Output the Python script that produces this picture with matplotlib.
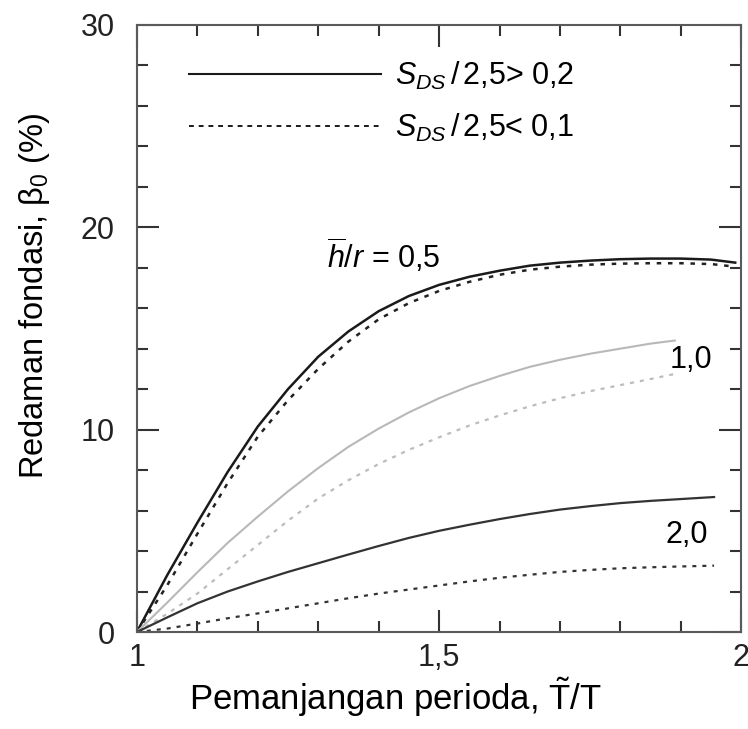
import matplotlib
matplotlib.use("Agg")
import matplotlib.pyplot as plt
from matplotlib.lines import Line2D
from matplotlib.ticker import MultipleLocator, FixedLocator

plt.rcParams['font.family'] = ['Liberation Sans', 'DejaVu Sans']
plt.rcParams['mathtext.fontset'] = 'custom'
plt.rcParams['mathtext.rm'] = 'Liberation Sans'
plt.rcParams['mathtext.it'] = 'Liberation Sans:italic'

# h/r = 0,5
x_05 = [1.0, 1.05, 1.1, 1.15, 1.2, 1.25, 1.3, 1.35, 1.4, 1.45, 1.5, 1.55, 1.6, 1.65,
        1.7, 1.75, 1.8, 1.85, 1.9, 1.95, 1.99]
solid_05 = [0, 2.8, 5.4, 7.9, 10.15, 12.0, 13.6, 14.85, 15.85, 16.6, 17.15, 17.55, 17.85,
            18.1, 18.25, 18.35, 18.42, 18.45, 18.45, 18.4, 18.25]
dot_05 = [0, 2.3, 4.85, 7.35, 9.65, 11.45, 13.0, 14.35, 15.45, 16.25, 16.85, 17.3, 17.65,
          17.9, 18.05, 18.15, 18.2, 18.22, 18.22, 18.18, 18.05]

# h/r = 1,0
x_10 = [1.0, 1.05, 1.1, 1.15, 1.2, 1.25, 1.3, 1.35, 1.4, 1.45, 1.5, 1.55, 1.6, 1.65,
        1.7, 1.75, 1.8, 1.85, 1.89]
solid_10 = [0, 1.45, 2.95, 4.4, 5.7, 6.95, 8.1, 9.15, 10.05, 10.85, 11.55, 12.15, 12.65,
            13.1, 13.45, 13.75, 14.0, 14.25, 14.4]
dot_10 = [0, 0.9, 1.9, 3.1, 4.3, 5.5, 6.6, 7.5, 8.3, 9.0, 9.62, 10.2, 10.7,
          11.15, 11.55, 11.9, 12.2, 12.5, 12.75]

# h/r = 2,0
x_20 = [1.0, 1.05, 1.1, 1.15, 1.2, 1.25, 1.3, 1.35, 1.4, 1.45, 1.5, 1.55, 1.6, 1.65,
        1.7, 1.75, 1.8, 1.85, 1.9, 1.955]
solid_20 = [0, 0.72, 1.42, 2.0, 2.5, 2.97, 3.4, 3.83, 4.25, 4.65, 5.0, 5.3, 5.58, 5.83,
            6.05, 6.22, 6.37, 6.48, 6.57, 6.67]
dot_20 = [0, 0.17, 0.42, 0.68, 0.92, 1.17, 1.42, 1.67, 1.9, 2.1, 2.3, 2.5, 2.68, 2.83,
          2.97, 3.07, 3.15, 3.2, 3.24, 3.28]

legend_labels = [r'$S_{DS}\,\mathit{/}\,$2,5> 0,2', r'$S_{DS}\,\mathit{/}\,$2,5< 0,1']
x_ticks = [1, 1.5, 2]
x_ticklabels = ['1', '1,5', '2']
y_ticks = [0, 10, 20, 30]
y_ticklabels = ['0', '10', '20', '30']

dots = (0, (1.8, 2.7))

fig = plt.figure(figsize=(7.48, 7.29), dpi=100)
ax = fig.add_axes([0.183, 0.133, 0.808, 0.833])

ax.plot(x_05, solid_05, color='#1a1a1a', lw=1.8)
ax.plot(x_05, dot_05, color='#222222', lw=1.8, ls=dots)
ax.plot(x_10, solid_10, color='#b8b8b8', lw=1.5)
ax.plot(x_10, dot_10, color='#bcbcbc', lw=1.6, ls=dots)
ax.plot(x_20, solid_20, color='#333333', lw=1.6)
ax.plot(x_20, dot_20, color='#333333', lw=1.6, ls=dots)

ax.set_xlim(1, 2)
ax.set_ylim(0, 30)
ax.xaxis.set_major_locator(FixedLocator(x_ticks))
ax.xaxis.set_minor_locator(MultipleLocator(0.1))
ax.yaxis.set_major_locator(FixedLocator(y_ticks))
ax.yaxis.set_minor_locator(MultipleLocator(2))
ax.set_xticklabels(x_ticklabels)
ax.set_yticklabels(y_ticklabels)

for s in ax.spines.values():
    s.set_color('#5a5a5a')
    s.set_linewidth(1.5)
ax.tick_params(which='both', direction='in', top=True, right=True,
               color='#333333', width=1.5, labelsize=22, labelcolor='#222222')
ax.tick_params(which='major', length=16)
ax.tick_params(which='minor', length=8)
ax.tick_params(axis='x', pad=8)
ax.tick_params(axis='y', pad=16)

ax.set_xlabel(r'Pemanjangan perioda, $\tilde{\mathrm{T}}$/T', fontsize=25)
ax.xaxis.set_label_coords(0.427, -0.107, transform=ax.transAxes)
ax.xaxis.label.set_va('center')
ax.set_ylabel('Redaman fondasi, β$_0$ (%)', fontsize=23.5)
ax.yaxis.set_label_coords(-0.17, 0.553, transform=ax.transAxes)
ax.yaxis.label.set_va('center')

handles = [Line2D([], [], color='#1a1a1a', lw=1.5),
           Line2D([], [], color='#1a1a1a', lw=1.4, ls=(0, (2.5, 2.5)))]
ax.legend(handles, legend_labels, loc='upper left', bbox_to_anchor=(0.066, 0.963),
          frameon=False, fontsize=22, handlelength=6.3, handletextpad=0.45,
          labelspacing=0.66, borderaxespad=0)

ax.text(1.315, 18.0, r'$\overline{h}\mathit{/}r$ = 0,5', fontsize=22, va='baseline')
ax.text(1.882, 13.05, '1,0', fontsize=22, va='baseline')
ax.text(1.874, 4.4, '2,0', fontsize=22, va='baseline')

fig.savefig('out.png', dpi=100)
